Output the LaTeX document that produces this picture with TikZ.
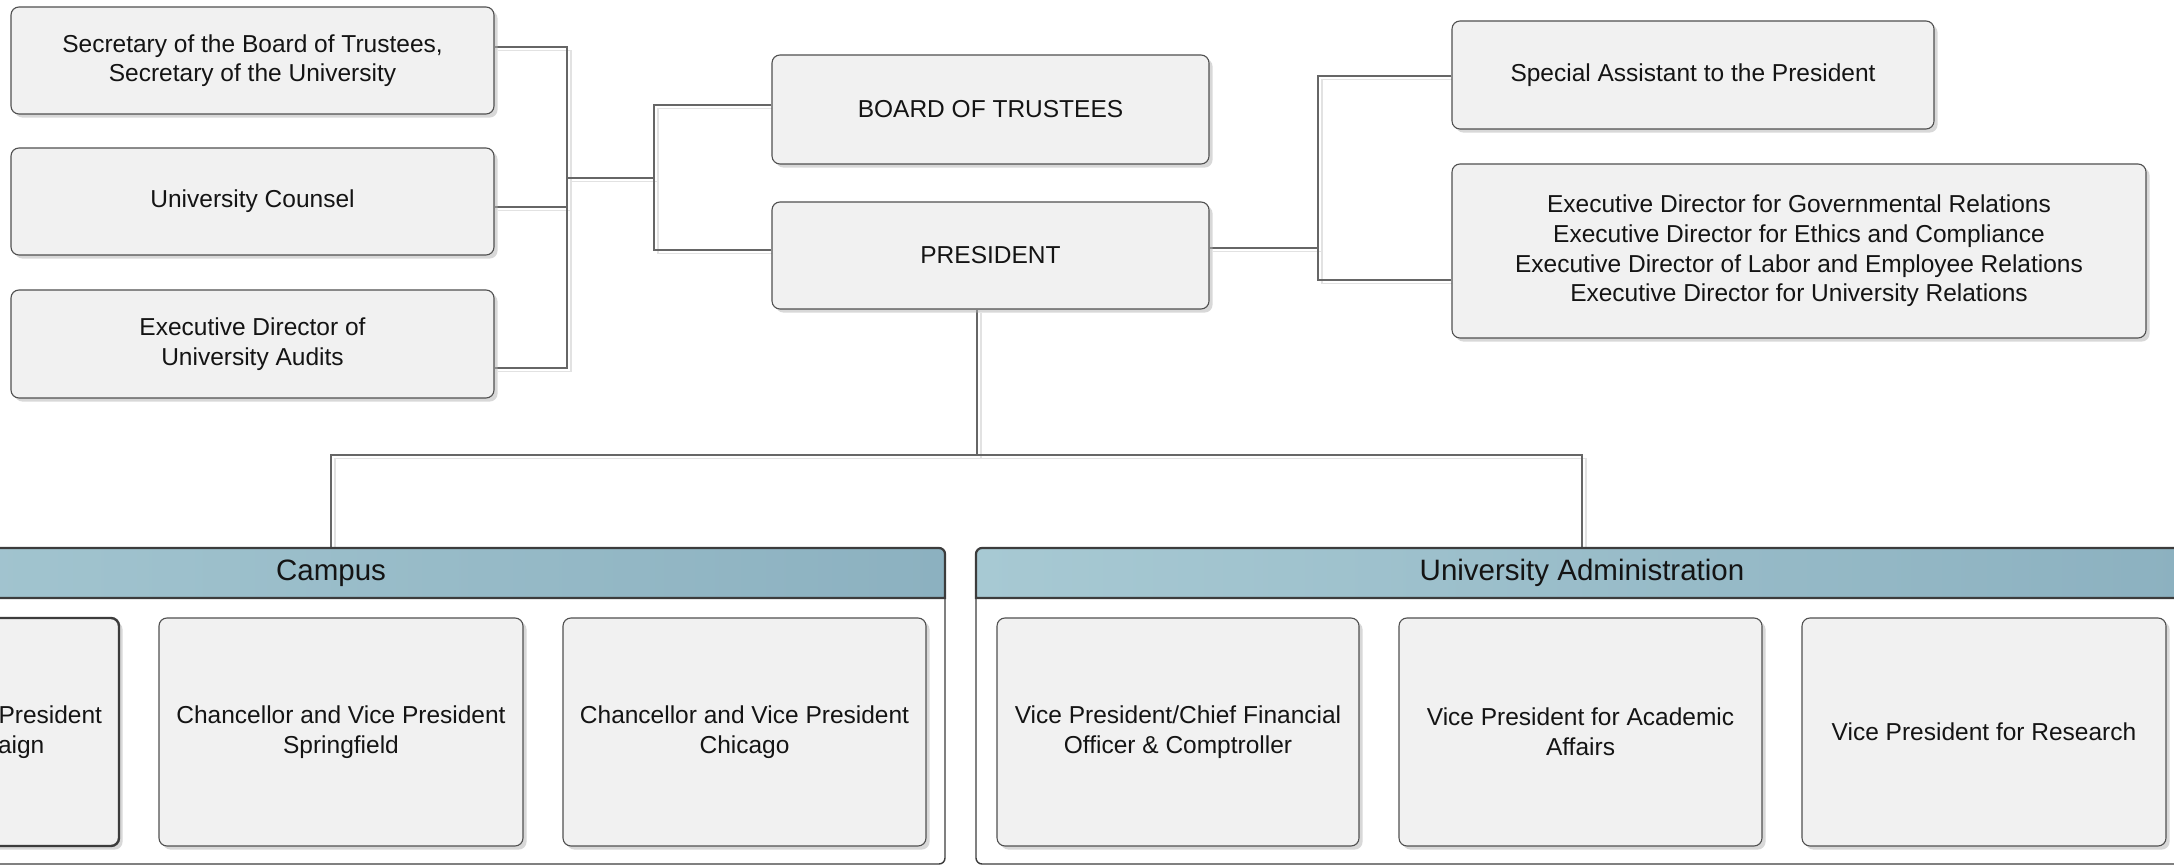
\documentclass[tikz,border=0pt]{standalone}
\usepackage{fontspec}
\setmainfont{Liberation Sans}
\usetikzlibrary{shadows,backgrounds}

\definecolor{boxfill}{HTML}{F1F1F1}
\definecolor{boxline}{HTML}{505050}
\definecolor{wire}{HTML}{666666}
\definecolor{wireshade}{HTML}{E2E2E2}
\definecolor{headL}{HTML}{A7C9D3}
\definecolor{headR}{HTML}{8CB1C0}
\definecolor{frame}{HTML}{3C3C3C}

\tikzset{
  unitbox/.style={draw=boxline, line width=0.55pt, fill=boxfill, rounded corners=4pt,
    inner sep=0pt, align=center, text=black!92,
    font=\fontsize{12.25pt}{14.8pt}\selectfont,
    drop shadow={shadow xshift=1.8pt, shadow yshift=-1.8pt, fill=black!30, opacity=.5}},
  chosen/.style={draw=frame, line width=1.2pt},
  conn/.style={draw=wire, line width=0.55pt,
    preaction={draw=wireshade, line width=0.9pt, transform canvas={xshift=1.8pt, yshift=-1.8pt}}},
  panel/.style={draw=frame, line width=0.7pt, fill=white, rounded corners=3pt, inner sep=0pt},
  headshade/.style={left color=headL, right color=headR},
  headrule/.style={draw=frame, line width=1.1pt},
  headtext/.style={inner sep=0pt, text=black!92, font=\fontsize{14.75pt}{17pt}\selectfont},
}

\begin{document}
\begin{tikzpicture}[x=0.5pt, y=-0.5pt]
\useasboundingbox (0,0) rectangle (2174,865);
\clip (0,0) rectangle (2174,865);

% ---- Campus group
\node[panel, minimum width=614pt, minimum height=158pt] (campus) at (331,706) {};
\shade[headshade] (-283,598) [rounded corners=3pt] -- (-283,548) -- (945,548) [sharp corners] -- (945,598) -- cycle;
\draw[headrule] (-283,598) [rounded corners=3pt] -- (-283,548) -- (945,548) [sharp corners] -- (945,598) -- cycle;
\node[headtext, minimum width=614pt, minimum height=25pt] (campushead) at (331,573) {Campus};

\node[unitbox, chosen, minimum width=181.5pt, minimum height=114pt] (urbana) at (-62.5,732)
  {Chancellor and Vice President\\Urbana-Champaign};
\node[unitbox, minimum width=182pt, minimum height=114pt] (springfield) at (341,732)
  {Chancellor and Vice President\\Springfield};
\node[unitbox, minimum width=181.5pt, minimum height=114pt] (chicago) at (744.5,732)
  {Chancellor and Vice President\\Chicago};

% ---- University Administration group
\node[panel, minimum width=606pt, minimum height=158pt] (admin) at (1582,706) {};
\shade[headshade] (976,598) [rounded corners=3pt] -- (976,548) -- (2188,548) [sharp corners] -- (2188,598) -- cycle;
\draw[headrule] (976,598) [rounded corners=3pt] -- (976,548) -- (2188,548) [sharp corners] -- (2188,598) -- cycle;
\node[headtext, minimum width=606pt, minimum height=25pt] (adminhead) at (1582,573) {University Administration};

\node[unitbox, minimum width=181pt, minimum height=114pt] (cfo) at (1178,732)
  {Vice President/Chief Financial\\Officer \& Comptroller};
\node[unitbox, minimum width=181.5pt, minimum height=114pt] (academic) at (1580.5,732)
  {Vice President for Academic\\Affairs};
\node[unitbox, minimum width=182pt, minimum height=114pt] (research) at (1984,732)
  {Vice President for Research};

% ---- Upper offices
\node[unitbox, minimum width=241.5pt, minimum height=53.5pt] (sec) at (252.5,60.5)
  {Secretary of the Board of Trustees,\\Secretary of the University};
\node[unitbox, minimum width=241.5pt, minimum height=53.5pt] (counsel) at (252.5,201.5)
  {University Counsel};
\node[unitbox, minimum width=241.5pt, minimum height=54pt] (audits) at (252.5,344)
  {Executive Director of\\University Audits};
\node[unitbox, minimum width=218.5pt, minimum height=54.5pt] (board) at (990.5,109.5)
  {BOARD OF TRUSTEES};
\node[unitbox, minimum width=218.5pt, minimum height=53.5pt] (president) at (990.5,255.5)
  {PRESIDENT};
\node[unitbox, minimum width=241pt, minimum height=54pt] (special) at (1693,75)
  {Special Assistant to the President};
\node[unitbox, minimum width=347pt, minimum height=87pt] (exec) at (1799,251)
  {Executive Director for Governmental Relations\\
   Executive Director for Ethics and Compliance\\
   Executive Director of Labor and Employee Relations\\
   Executive Director for University Relations};

% ---- Reporting lines
\begin{scope}[on background layer]
  \coordinate (lbus) at (567,178);
  \coordinate (mbus) at (654,178);
  \coordinate (rbus) at (1318,248);
  \coordinate (pbus) at (977,455);

  \draw[conn] ([yshift=6.75pt]sec.east) -| (lbus);
  \draw[conn] ([yshift=-2.75pt]counsel.east) -| (lbus);
  \draw[conn] ([yshift=-12pt]audits.east) -| (lbus);
  \draw[conn] (lbus) -- (mbus);
  \draw[conn] ([yshift=2.25pt]board.west) -| (mbus);
  \draw[conn] ([yshift=2.75pt]president.west) -| (mbus);

  \draw[conn] ([yshift=3.75pt]president.east) -- (rbus);
  \draw[conn] ([yshift=-0.5pt]special.west) -| (rbus);
  \draw[conn] ([yshift=-14.5pt]exec.west) -| (rbus);

  \draw[conn] ([xshift=-6.75pt]president.south) -- (pbus);
  \draw[conn] (pbus) -| (campushead.north);
  \draw[conn] (pbus) -| (adminhead.north);
\end{scope}
\end{tikzpicture}
\end{document}
